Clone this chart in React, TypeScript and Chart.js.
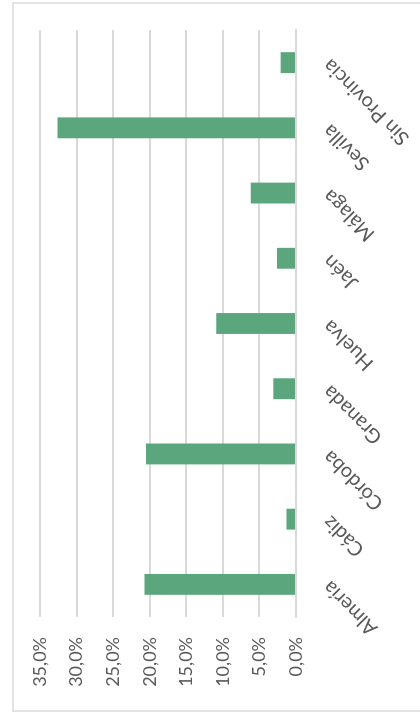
import React, { useEffect, useRef } from 'react';
import { Chart, registerables } from 'chart.js';

Chart.register(...registerables);

const categories = ['Almería', 'Cádiz', 'Córdoba', 'Granada', 'Huelva', 'Jaén', 'Málaga', 'Sevilla', 'Sin Provincia'];
const values = [20.7, 1.3, 20.5, 3.1, 10.9, 2.6, 6.2, 32.6, 2.1];
const yMin = 0;
const yMax = 35;
const yStep = 5;

const fmt = (v: number) => v.toFixed(1).replace('.', ',') + '%';

export default function App() {
  const ref = useRef<HTMLCanvasElement>(null);
  useEffect(() => {
    const family = 'Lato, "Open Sans", sans-serif';
    const chart = new Chart(ref.current as HTMLCanvasElement, {
      type: 'bar',
      data: {
        labels: categories,
        datasets: [
          {
            data: values,
            backgroundColor: '#5ba67c',
            barPercentage: 0.32,
            categoryPercentage: 1,
          },
        ],
      },
      options: {
        responsive: false,
        animation: false,
        layout: { padding: { left: 6, right: 30, top: 40, bottom: 0 } },
        plugins: { legend: { display: false }, tooltip: { enabled: false } },
        scales: {
          x: {
            grid: { display: false, drawTicks: false },
            border: { display: true, color: '#d9d9d9', width: 2 },
            ticks: {
              minRotation: 45,
              maxRotation: 45,
              autoSkip: false,
              padding: 22,
              color: '#595959',
              font: { family, size: 20 },
            },
            afterFit: (s: any) => {
              s.height = 124;
            },
          },
          y: {
            min: yMin,
            max: yMax,
            ticks: {
              stepSize: yStep,
              padding: 20,
              color: '#595959',
              font: { family, size: 18 },
              callback: (v: any) => fmt(Number(v)),
            },
            grid: { color: '#d9d9d9', lineWidth: 2, drawTicks: false },
            border: { display: false },
            afterFit: (s: any) => {
              s.width = 92;
            },
          },
        },
      },
    });
    return () => chart.destroy();
  }, []);

  return (
    <div
      style={{
        position: 'fixed',
        left: 0,
        top: 0,
        width: 420,
        height: 715,
        overflow: 'hidden',
        background: '#ffffff',
      }}
    >
      <div
        style={{
          position: 'absolute',
          left: 12,
          top: 2,
          width: 430,
          height: 706,
          border: '2px solid #e3e3e3',
        }}
      />
      <div
        style={{
          position: 'absolute',
          left: 0,
          top: 0,
          width: 715,
          height: 420,
          transformOrigin: '0 0',
          transform: 'translate(0px, 715px) rotate(-90deg)',
        }}
      >
        <canvas ref={ref} width={715} height={420} style={{ display: 'block' }} />
      </div>
    </div>
  );
}
